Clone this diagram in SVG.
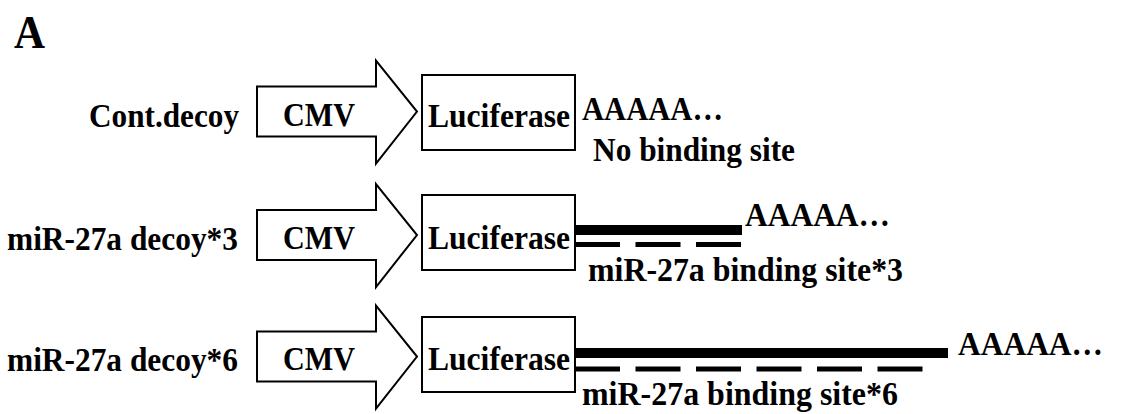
<svg xmlns="http://www.w3.org/2000/svg" width="1121" height="414" viewBox="0 0 1121 414" font-family="Liberation Serif, Times New Roman, serif">
  <style>
    .lbl { font-size: 34px; font-weight: bold; fill: #000; }
    .panel { font-size: 46px; font-weight: bold; fill: #000; }
    .shape { fill: #fff; stroke: #000; stroke-width: 2; stroke-linejoin: miter; }
    .utr { stroke: #000; stroke-width: 10; fill: none; }
    .site { stroke: #000; stroke-width: 5; fill: none; stroke-dasharray: 45 15.5; }
  </style>
  <defs>
    <!-- CMV promoter block arrow, centred on y=0 -->
    <path id="promoter" class="shape" d="M257,-25 H376 V-51 L417,0 L376,52 V25 H257 Z"/>
    <!-- reporter gene box, centred on y=0 -->
    <rect id="reporter" class="shape" x="422" y="-37.5" width="153" height="75"/>
  </defs>

  <text class="panel" x="14" y="48" textLength="31" lengthAdjust="spacingAndGlyphs">A</text>

  <!-- construct 1: control decoy -->
  <g id="cont-decoy">
    <text class="lbl" x="89" y="127" textLength="150" lengthAdjust="spacingAndGlyphs">Cont.decoy</text>
    <use href="#promoter" y="111.5"/>
    <text class="lbl" x="283" y="126" textLength="72" lengthAdjust="spacingAndGlyphs">CMV</text>
    <use href="#reporter" y="112.5"/>
    <text class="lbl" x="428" y="127" textLength="142" lengthAdjust="spacingAndGlyphs">Luciferase</text>
    <text class="lbl" x="582" y="120" textLength="141" lengthAdjust="spacingAndGlyphs">AAAAA…</text>
    <text class="lbl" x="593" y="161" textLength="202" lengthAdjust="spacingAndGlyphs">No binding site</text>
  </g>

  <!-- construct 2: three binding sites -->
  <g id="decoy-3">
    <text class="lbl" x="7" y="250" textLength="231" lengthAdjust="spacingAndGlyphs">miR-27a decoy*3</text>
    <use href="#promoter" y="235"/>
    <text class="lbl" x="283" y="249" textLength="72" lengthAdjust="spacingAndGlyphs">CMV</text>
    <use href="#reporter" y="232.5"/>
    <text class="lbl" x="428" y="249" textLength="142" lengthAdjust="spacingAndGlyphs">Luciferase</text>
    <text class="lbl" x="745" y="226" textLength="145" lengthAdjust="spacingAndGlyphs">AAAAA…</text>
    <text class="lbl" x="588" y="281" textLength="315" lengthAdjust="spacingAndGlyphs">miR-27a binding site*3</text>
  </g>

  <!-- construct 3: six binding sites -->
  <g id="decoy-6">
    <text class="lbl" x="7" y="371" textLength="231" lengthAdjust="spacingAndGlyphs">miR-27a decoy*6</text>
    <use href="#promoter" y="356.5"/>
    <text class="lbl" x="283" y="370" textLength="72" lengthAdjust="spacingAndGlyphs">CMV</text>
    <use href="#reporter" y="354.5"/>
    <text class="lbl" x="428" y="370" textLength="142" lengthAdjust="spacingAndGlyphs">Luciferase</text>
    <text class="lbl" x="958" y="355" textLength="145" lengthAdjust="spacingAndGlyphs">AAAAA…</text>
    <text class="lbl" x="582" y="405" textLength="316" lengthAdjust="spacingAndGlyphs">miR-27a binding site*6</text>
  </g>

  <!-- 3'UTR strands and binding-site repeats -->
  <g id="connectors">
    <line class="utr" x1="575" y1="230" x2="742" y2="230"/>
    <line class="site" x1="575" y1="244.5" x2="742" y2="244.5"/>
    <line class="utr" x1="575" y1="353" x2="948" y2="353"/>
    <line class="site" x1="575" y1="369" x2="923" y2="369"/>
  </g>
</svg>
